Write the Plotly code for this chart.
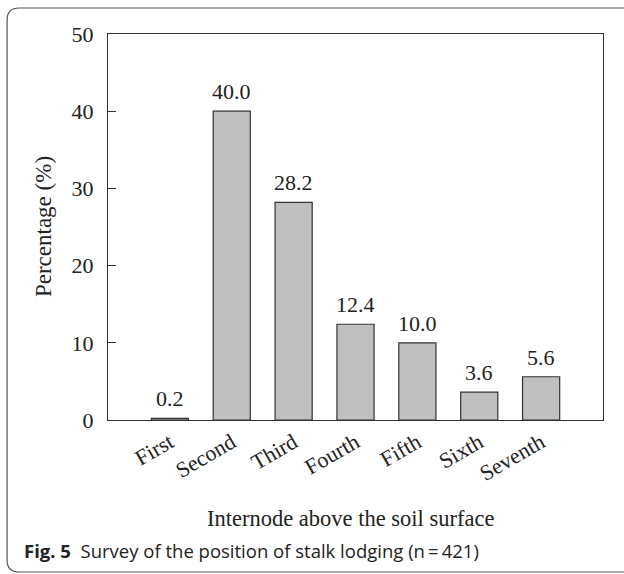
import plotly.graph_objects as go

categories = ["First", "Second", "Third", "Fourth", "Fifth", "Sixth", "Seventh"]
values = [0.2, 40.0, 28.2, 12.4, 10.0, 3.6, 5.6]
y_ticks = [0, 10, 20, 30, 40, 50]

serif = "Liberation Serif, Times New Roman, serif"
ML, MR, MT, MB = 108, 20.5, 34, 154
W, H = 624, 574
PW = W - ML - MR
PH = H - MT - MB

fig = go.Figure()
fig.add_trace(go.Bar(
    x=list(range(len(categories))), y=values, width=0.6,
    marker=dict(color="#c0c0c0", line=dict(color="#333333", width=1.2)),
    showlegend=False, hoverinfo="skip",
))

for i, v in enumerate(values):
    fig.add_annotation(x=i, y=v, text=f"{v:.1f}", showarrow=False,
                       yanchor="bottom", yshift=5,
                       font=dict(family=serif, size=22, color="#222"))

fig.update_xaxes(range=[-1, 7], tickmode="array", tickvals=list(range(len(categories))),
                 ticktext=categories, tickangle=-30, ticks="", showgrid=False,
                 showline=True, linecolor="#333", linewidth=1.2, mirror=True,
                 zeroline=False,
                 tickfont=dict(family=serif, size=22, color="#222"))
fig.update_yaxes(range=[0, 50], tickmode="array", tickvals=y_ticks,
                 ticks="inside", ticklen=8, tickcolor="#333", tickwidth=1.2,
                 ticklabelstandoff=9,
                 showgrid=False, showline=True, linecolor="#333", linewidth=1.2,
                 mirror=True, zeroline=False,
                 tickfont=dict(family=serif, size=22, color="#222"))

fig.add_annotation(xref="paper", yref="paper", x=(43 - ML) / PW, xanchor="center",
                   y=0.5, yanchor="middle", text="Percentage (%)",
                   textangle=-90, showarrow=False,
                   font=dict(family=serif, size=23, color="#222"))
fig.add_annotation(xref="paper", yref="paper", x=(351 - ML) / PW, xanchor="center",
                   y=(H - MB - 518) / PH, yanchor="middle",
                   text="Internode above the soil surface", showarrow=False,
                   font=dict(family=serif, size=22.5, color="#222"))
fig.add_annotation(xref="paper", yref="paper", x=(22 - ML) / PW, xanchor="left",
                   y=(H - MB - 550) / PH, yanchor="middle",
                   text="<b>Fig. 5</b>  Survey of the position of stalk lodging (n\u2009=\u2009421)",
                   showarrow=False,
                   font=dict(family="Open Sans, Noto Sans, sans-serif", size=18.5, color="#222"))

# rounded frame around the figure (paper units)
px_x = 1 / PW
px_y = 1 / PH
L = (7 - ML) * px_x
T = (H - MB - 8) * px_y
B = (H - MB - 572) * px_y
R = (640 - ML) * px_x
rx = 12 * px_x
ry = 12 * px_y
path = (f"M {R},{T} L {L+rx},{T} Q {L},{T} {L},{T-ry} "
        f"L {L},{B+ry} Q {L},{B} {L+rx},{B} L {R},{B}")
fig.add_shape(type="path", xref="paper", yref="paper", path=path,
              line=dict(color="#555", width=1.2))

fig.update_layout(width=W, height=H, margin=dict(l=ML, r=MR, t=MT, b=MB),
                  plot_bgcolor="white", paper_bgcolor="white", bargap=0.4)

fig.write_html("out.html", config={"displayModeBar": False},
               post_script="document.body.style.margin='0';")
